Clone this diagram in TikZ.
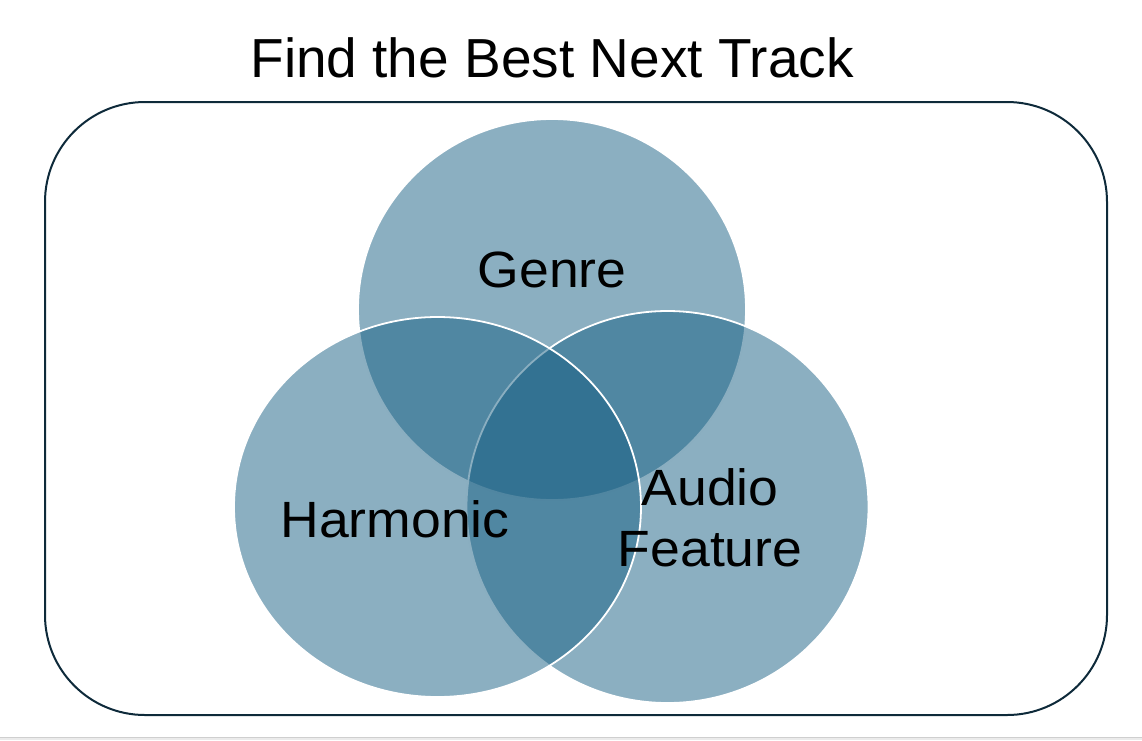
\documentclass[tikz,border=0pt]{standalone}
\usepackage{fontspec}
\setmainfont{Liberation Sans}
\newfontfamily\widesans[FakeStretch=1.05]{Liberation Sans}
\begin{document}
\begin{tikzpicture}[x=1pt,y=-1pt,
  frame/.style={draw=framecol,line width=2pt,rounded corners=100pt},
  setdisc/.style={fill=discol,fill opacity=0.5,draw=white,line width=1.8pt},
  setlabel/.style={text=black,font=\widesans\fontsize{51}{62}\selectfont,align=center,inner sep=0pt},
  headline/.style={text=black,font=\fontsize{55}{66}\selectfont,inner sep=0pt}]
\definecolor{framecol}{HTML}{0E2A3A}
\definecolor{discol}{HTML}{175F83}
\definecolor{barcol}{HTML}{EBEBEB}
\definecolor{barline}{HTML}{CFCFCF}
\useasboundingbox (0,0) rectangle (1142,740);
% page strip along the lower edge
\fill[barcol] (0,737) rectangle (1142,740);
\draw[barline,line width=1pt] (0,737) -- (1142,737);
% heading
\node[headline,anchor=base] (title) at (552,77) {Find the Best Next Track};
% outer frame
\draw[frame] (45,102) rectangle (1107,715);
% three overlapping sets, each laid over the previous ones
\fill[setdisc] (552,309.5) ellipse [x radius=194, y radius=190.5];
\filldraw[setdisc] (667.5,507) ellipse [x radius=201, y radius=196];
\filldraw[setdisc] (437.5,507) ellipse [x radius=203.5, y radius=190];
% set names
\node[setlabel,anchor=base] (genre) at (552,287) {Genre};
\node[setlabel,anchor=base] (harm) at (395,537) {Harmonic};
\node[setlabel,anchor=base] (audio) at (710,505) {Audio};
\node[setlabel,anchor=base] (feat) at (710,566) {Feature};
\end{tikzpicture}
\end{document}
